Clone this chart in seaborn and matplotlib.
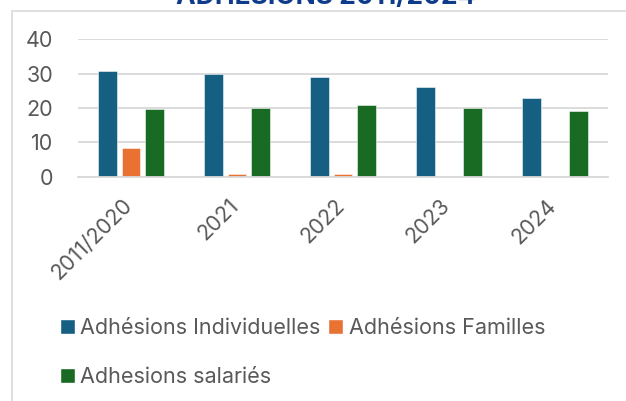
import matplotlib
matplotlib.use("Agg")
import matplotlib.pyplot as plt
import matplotlib.transforms as mtransforms
import seaborn as sns
import pandas as pd
from matplotlib.patches import Rectangle, Patch

categories = ["2011/2020", "2021", "2022", "2023", "2024"]
individuelles = [30.7, 30, 29, 26, 23]
familles = [8.5, 1, 1, 0, 0]
salaries = [19.6, 20, 21, 20, 19]
series_names = ["Adhésions Individuelles", "Adhésions Familles", "Adhesions salariés"]
colors = ["#156082", "#E97132", "#196B24"]
title = "ADHÉSIONS 2011/2024"

rows = []
for name, vals in zip(series_names, [individuelles, familles, salaries]):
    for c, v in zip(categories, vals):
        rows.append({"Année": c, "Série": name, "Valeur": v})
df = pd.DataFrame(rows)

sns.set_theme(style="white")
plt.rcParams["font.family"] = ["Inter", "DejaVu Sans"]

fig = plt.figure(figsize=(6.26, 4.01), dpi=100)
ax = fig.add_axes([78 / 626, 1 - 177 / 401, 530 / 626, 138 / 401])

sns.barplot(data=df, x="Année", y="Valeur", hue="Série", order=categories,
            hue_order=series_names, palette=colors, saturation=1, width=0.666, gap=0.23,
            edgecolor=(1, 1, 1, 0.6), linewidth=0.6, ax=ax, legend=False)

ax.set_ylim(0, 40)
ax.set_xlim(-0.5, 4.5)
ax.set_yticks([0, 10, 20, 30, 40])
ax.yaxis.grid(True, color="#D9D9D9", linewidth=1.3)
ax.set_axisbelow(True)
for s in ["left", "right", "top"]:
    ax.spines[s].set_visible(False)
ax.spines["bottom"].set_color("#D9D9D9")
ax.spines["bottom"].set_linewidth(1.3)
ax.set_xlabel("")
ax.set_ylabel("")
ax.tick_params(axis="y", length=0, pad=18, labelsize=15.5, labelcolor="#595959")
ax.tick_params(axis="x", length=0, pad=6, labelsize=15.5, labelcolor="#595959")
offset = mtransforms.ScaledTranslation(-9 / 100, -10 / 100, fig.dpi_scale_trans)
for lab in ax.get_xticklabels():
    lab.set_rotation(45)
    lab.set_ha("right")
    lab.set_va("top")
    lab.set_rotation_mode("anchor")
    lab.set_transform(lab.get_transform() + offset)

# chart frame
fig.add_artist(Rectangle((12 / 626, -0.1), 1.2, 1.1 - 11 / 401,
                         transform=fig.transFigure, fill=False,
                         edgecolor="#D9D9D9", linewidth=1.2, zorder=0))

fig.text(326 / 626, 1 - 4 / 401, title, ha="center", va="baseline",
         fontsize=19, fontweight="bold", color="#0E3C8A")

handles = [Patch(facecolor=colors[0]), Patch(facecolor=colors[2]), Patch(facecolor=colors[1])]
labels = [series_names[0], series_names[2], series_names[1]]
fig.legend(handles, labels, loc="upper left", bbox_to_anchor=(60 / 626, 1 - 318 / 401),
           ncol=2, frameon=False, fontsize=15.5, handlelength=0.7, handleheight=0.7,
           handletextpad=0.25, columnspacing=0.35, labelspacing=1.35, borderpad=0,
           borderaxespad=0, labelcolor="#595959")

fig.savefig("out.png", dpi=100)
